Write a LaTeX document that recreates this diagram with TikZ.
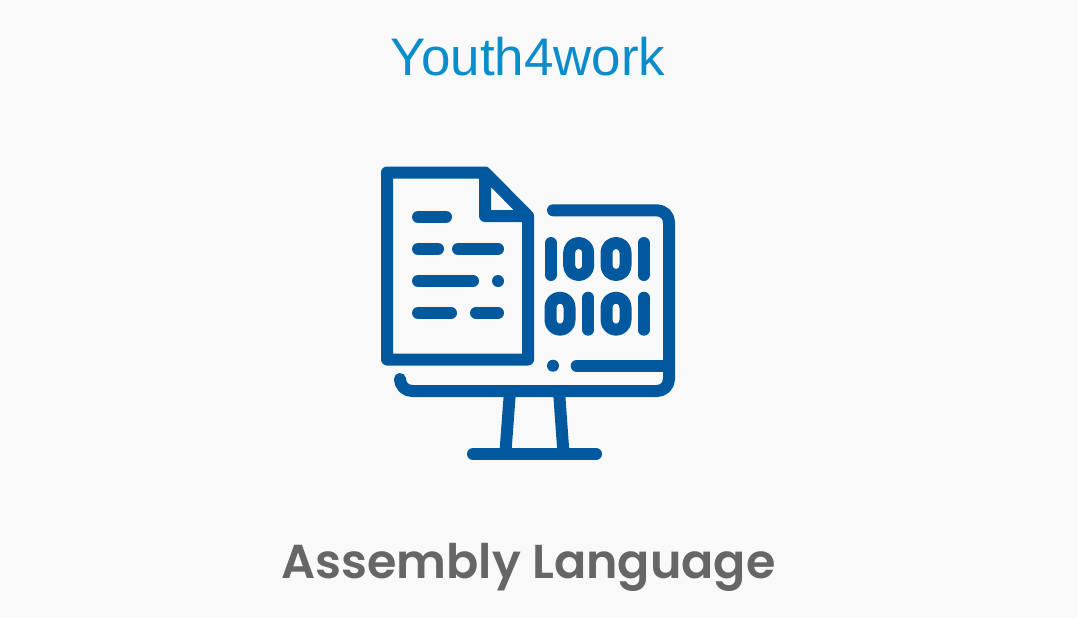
\documentclass[tikz,border=0pt]{standalone}
\usepackage{fontspec}
\setmainfont{Liberation Sans}
\newfontfamily\gothfont{Poppins}[FontFace={sb}{n}{Font=* SemiBold}]
\definecolor{bgc}{HTML}{F9F9F9}
\definecolor{iconc}{HTML}{00589F}
\definecolor{brandc}{HTML}{0A8DCB}
\definecolor{titlec}{HTML}{666666}
\tikzset{
  ico/.style={draw=iconc,line width=12pt,line cap=round,line join=round},
  dotc/.style={fill=iconc,draw=none},
  zero/.style={ico,rounded corners=9.5pt},
}
\begin{document}
\begin{tikzpicture}[x=1pt,y=-1pt]
\useasboundingbox (0,0) rectangle (1078,618);
\fill[bgc] (0,0) rectangle (1078,618);
% document
\draw[ico] (485,172.5) -- (387,172.5) -- (387,359.5) -- (528,359.5) -- (528,216) -- (485,172.5) -- (485,216) -- (528,216);
\draw[ico] (418,217) -- (446,217);
\draw[ico] (418,249) -- (438,249);
\draw[ico] (458,249) -- (498,249);
\draw[ico] (418,281) -- (473,281);
\fill[dotc] (498,281) circle (6);
\draw[ico] (418,313) -- (451,313);
\draw[ico] (476,313) -- (498,313);
% monitor
\draw[ico,rounded corners=12pt] (553,210.3) -- (669,210.3) -- (669,391) -- (400,391) -- (400,380);
\draw[ico] (576.7,365.7) -- (669,365.7);
\fill[dotc] (553,365.7) circle (6);
\draw[draw=iconc,line width=12pt] (510,391) -- (505.3,454);
\draw[draw=iconc,line width=12pt] (559,391) -- (563.5,454);
\draw[ico] (473,454) -- (596,454);
% binary digits
\draw[ico] (551,243) -- (551,275);
\draw[zero] (569.2,243) rectangle (588.2,275);
\draw[zero] (606.5,243) rectangle (625.5,275);
\draw[ico] (643.7,243) -- (643.7,275);
\draw[zero] (550.5,297.7) rectangle (569.5,329.7);
\draw[ico] (588.3,297.7) -- (588.3,329.7);
\draw[zero] (606.5,297.7) rectangle (625.5,329.7);
\draw[ico] (643.7,297.7) -- (643.7,329.7);
% texts
\node[anchor=base,text=brandc,font=\fontsize{52.9}{60}\selectfont,inner sep=0pt] (brand) at (528,75) {Youth4work};
\node[anchor=base,text=titlec,font=\gothfont\fontseries{sb}\fontsize{47.6}{54}\selectfont,inner sep=0pt] (title) at (528.5,578) {Assembly Language};
\end{tikzpicture}
\end{document}
